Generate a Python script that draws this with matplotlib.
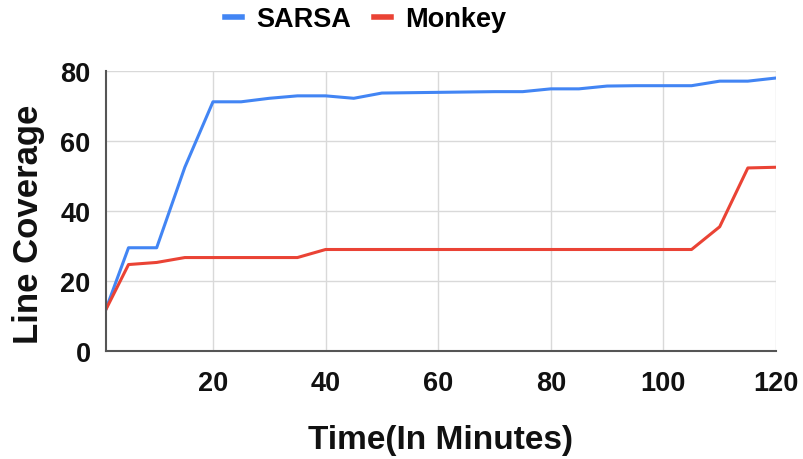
import matplotlib
matplotlib.use("Agg")
import matplotlib.pyplot as plt

# Coverage over time, sampled every 5 minutes (first sample at minute 1)
minutes = [1, 5, 10, 15, 20, 25, 30, 35, 40, 45, 50, 55, 60, 65, 70, 75,
           80, 85, 90, 95, 100, 105, 110, 115, 120]
sarsa = [12.0, 29.5, 29.5, 52.5, 71.2, 71.2, 72.2, 72.9, 72.9, 72.2, 73.7, 73.8,
         73.9, 74.0, 74.1, 74.1, 74.9, 74.9, 75.7, 75.8, 75.8, 75.8, 77.1, 77.1, 78.0]
monkey = [11.9, 24.7, 25.3, 26.7, 26.7, 26.7, 26.7, 26.7, 29.0, 29.0, 29.0, 29.0,
          29.0, 29.0, 29.0, 29.0, 29.0, 29.0, 29.0, 29.0, 29.0, 29.0, 35.5, 52.3, 52.5]
x_ticks = [20, 40, 60, 80, 100, 120]
y_ticks = [0, 20, 40, 60, 80]

plt.rcParams["font.family"] = ["Liberation Sans", "DejaVu Sans"]
plt.rcParams["font.weight"] = "bold"

fig = plt.figure(figsize=(8.04, 4.6), dpi=100)
ax = fig.add_axes([106 / 804, 1 - 352 / 460, 670 / 804, 280 / 460])

ax.plot(minutes, sarsa, color="#4285F4", lw=2.2, label="SARSA", solid_joinstyle="round")
ax.plot(minutes, monkey, color="#EA4335", lw=2.2, label="Monkey", solid_joinstyle="round")

ax.set_xlim(1, 120)
ax.set_ylim(0, 80)
ax.set_xticks(x_ticks)
ax.set_yticks(y_ticks)
ax.grid(True, color="#d9d9d9", lw=1.0)
ax.set_axisbelow(True)

for side in ("top", "right"):
    ax.spines[side].set_visible(False)
for side in ("left", "bottom"):
    ax.spines[side].set_color("#555555")
    ax.spines[side].set_linewidth(1.5)

ax.tick_params(axis="both", length=0, labelsize=19.5, colors="#111111")
ax.tick_params(axis="x", pad=14)
ax.tick_params(axis="y", pad=11)
for lab in ax.get_xticklabels() + ax.get_yticklabels():
    lab.set_fontweight("bold")

ax.set_xlabel("Time(In Minutes)", fontsize=24, fontweight="bold", labelpad=20, color="#111111")
ax.set_ylabel("Line Coverage", fontsize=25, fontweight="bold", labelpad=11, color="#111111")
ax.yaxis.label.set_y(0.455)

fig.legend(loc="center", bbox_to_anchor=(366 / 804, 1 - 20 / 460), ncol=2, frameon=False,
           handlelength=0.6, handletextpad=0.55, columnspacing=0.85,
           prop={"weight": "bold", "size": 19.5})
for line in fig.legends[0].get_lines():
    line.set_linewidth(4)

fig.savefig("out.png", dpi=100)
